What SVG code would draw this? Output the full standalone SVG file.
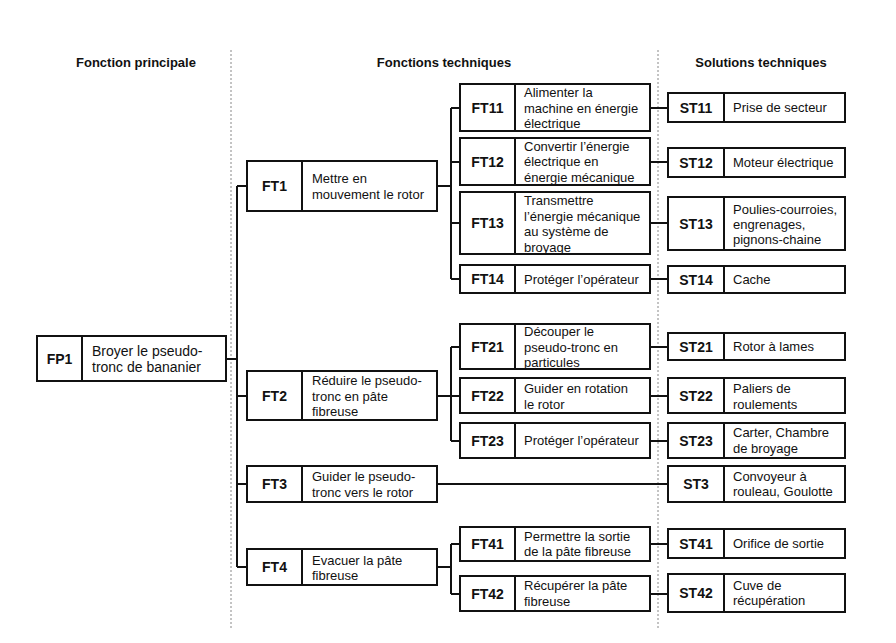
<svg xmlns="http://www.w3.org/2000/svg" width="896" height="643" viewBox="0 0 896 643">
<style>
.box{fill:#fff;stroke:#111;stroke-width:2}
.div{stroke:#111;stroke-width:2}
.conn{fill:none;stroke:#111;stroke-width:2}
.sep{stroke:#888;stroke-width:1;stroke-dasharray:2,2}
text{font-family:"Liberation Sans",Arial,sans-serif;fill:#111}
.hd{font-size:13px;font-weight:bold;text-anchor:middle}
.code{font-size:14px;font-weight:bold;text-anchor:middle}
.t{font-size:13px}
.t14{font-size:14px}
</style>
<rect width="896" height="643" fill="#fff"/>
<g id="separators">
<line class="sep" x1="231" y1="50" x2="231" y2="628"/>
<line class="sep" x1="658" y1="50" x2="658" y2="628"/>
</g>
<g id="headers">
<text class="hd" x="136" y="67">Fonction principale</text>
<text class="hd" x="444" y="67">Fonctions techniques</text>
<text class="hd" x="761" y="67">Solutions techniques</text>
</g>
<g id="connectors">
<path class="conn" d="M226 359H237M237 186V567M237 186H247M237 396H247M237 484H247M237 567H247"/>
<path class="conn" d="M437 186H451M451 108V279M451 108H460M451 162H460M451 223H460M451 279H460"/>
<path class="conn" d="M437 396H451M451 347V441M451 347H460M451 396H460M451 441H460"/>
<path class="conn" d="M437 484H668"/>
<path class="conn" d="M437 567H451M451 544V594M451 544H460M451 594H460"/>
<path class="conn" d="M650 108H668M650 162H668M650 223H668M650 279H668M650 347H668M650 396H668M650 441H668M650 544H668M650 594H668"/>
</g>
<g id="FP1">
<rect class="box" x="37" y="336" width="189" height="45"/>
<line class="div" x1="82" y1="336" x2="82" y2="381"/>
<text class="code" x="59.5" y="363.5">FP1</text>
<text class="t14" x="92" y="356">Broyer le pseudo-</text>
<text class="t14" x="92" y="372">tronc de bananier</text>
</g>
<g id="FT1">
<rect class="box" x="247" y="161" width="190" height="50"/>
<line class="div" x1="302" y1="161" x2="302" y2="211"/>
<text class="code" x="274.5" y="191">FT1</text>
<text class="t" x="312" y="182.5">Mettre en</text>
<text class="t" x="312" y="198.5">mouvement le rotor</text>
</g>
<g id="FT2">
<rect class="box" x="247" y="371" width="190" height="49"/>
<line class="div" x1="302" y1="371" x2="302" y2="420"/>
<text class="code" x="274.5" y="400.5">FT2</text>
<text class="t" x="312" y="384.5">Réduire le pseudo-</text>
<text class="t" x="312" y="400.5">tronc en pâte</text>
<text class="t" x="312" y="415.5">fibreuse</text>
</g>
<g id="FT3">
<rect class="box" x="247" y="466" width="190" height="36"/>
<line class="div" x1="302" y1="466" x2="302" y2="502"/>
<text class="code" x="274.5" y="489">FT3</text>
<text class="t" x="312" y="480.5">Guider le pseudo-</text>
<text class="t" x="312" y="496.5">tronc vers le rotor</text>
</g>
<g id="FT4">
<rect class="box" x="247" y="549" width="190" height="36"/>
<line class="div" x1="302" y1="549" x2="302" y2="585"/>
<text class="code" x="274.5" y="572">FT4</text>
<text class="t" x="312" y="564.5">Evacuer la pâte</text>
<text class="t" x="312" y="579.5">fibreuse</text>
</g>
<g id="FT11">
<rect class="box" x="460" y="84" width="190" height="47"/>
<line class="div" x1="515" y1="84" x2="515" y2="131"/>
<text class="code" x="487.5" y="112.5">FT11</text>
<text class="t" x="524" y="97">Alimenter la</text>
<text class="t" x="524" y="112.5">machine en énergie</text>
<text class="t" x="524" y="128">électrique</text>
</g>
<g id="FT12">
<rect class="box" x="460" y="138" width="190" height="47"/>
<line class="div" x1="515" y1="138" x2="515" y2="185"/>
<text class="code" x="487.5" y="166.5">FT12</text>
<text class="t" x="524" y="150.5">Convertir l’énergie</text>
<text class="t" x="524" y="166">électrique en</text>
<text class="t" x="524" y="181.5">énergie mécanique</text>
</g>
<g id="FT13">
<rect class="box" x="460" y="192" width="190" height="62"/>
<line class="div" x1="515" y1="192" x2="515" y2="254"/>
<text class="code" x="487.5" y="228">FT13</text>
<text class="t" x="524" y="205">Transmettre</text>
<text class="t" x="524" y="220.5">l’énergie mécanique</text>
<text class="t" x="524" y="236">au système de</text>
<text class="t" x="524" y="251.5">broyage</text>
</g>
<g id="FT14">
<rect class="box" x="460" y="265" width="190" height="28"/>
<line class="div" x1="515" y1="265" x2="515" y2="293"/>
<text class="code" x="487.5" y="284">FT14</text>
<text class="t" x="524" y="283.5">Protéger l’opérateur</text>
</g>
<g id="FT21">
<rect class="box" x="460" y="324" width="190" height="45"/>
<line class="div" x1="515" y1="324" x2="515" y2="369"/>
<text class="code" x="487.5" y="351.5">FT21</text>
<text class="t" x="524" y="336">Découper le</text>
<text class="t" x="524" y="351.5">pseudo-tronc en</text>
<text class="t" x="524" y="367">particules</text>
</g>
<g id="FT22">
<rect class="box" x="460" y="378" width="190" height="35"/>
<line class="div" x1="515" y1="378" x2="515" y2="413"/>
<text class="code" x="487.5" y="400.5">FT22</text>
<text class="t" x="524" y="392.5">Guider en rotation</text>
<text class="t" x="524" y="408.5">le rotor</text>
</g>
<g id="FT23">
<rect class="box" x="460" y="423" width="190" height="35"/>
<line class="div" x1="515" y1="423" x2="515" y2="458"/>
<text class="code" x="487.5" y="445.5">FT23</text>
<text class="t" x="524" y="445">Protéger l’opérateur</text>
</g>
<g id="FT41">
<rect class="box" x="460" y="527" width="190" height="34"/>
<line class="div" x1="515" y1="527" x2="515" y2="561"/>
<text class="code" x="487.5" y="549">FT41</text>
<text class="t" x="524" y="541">Permettre la sortie</text>
<text class="t" x="524" y="556">de la pâte fibreuse</text>
</g>
<g id="FT42">
<rect class="box" x="460" y="576" width="190" height="35"/>
<line class="div" x1="515" y1="576" x2="515" y2="611"/>
<text class="code" x="487.5" y="598.5">FT42</text>
<text class="t" x="524" y="589.5">Récupérer la pâte</text>
<text class="t" x="524" y="605.5">fibreuse</text>
</g>
<g id="ST11">
<rect class="box" x="668" y="93" width="177" height="29"/>
<line class="div" x1="724" y1="93" x2="724" y2="122"/>
<text class="code" x="696" y="112.5">ST11</text>
<text class="t" x="733" y="112">Prise de secteur</text>
</g>
<g id="ST12">
<rect class="box" x="668" y="148" width="177" height="29"/>
<line class="div" x1="724" y1="148" x2="724" y2="177"/>
<text class="code" x="696" y="167.5">ST12</text>
<text class="t" x="733" y="167">Moteur électrique</text>
</g>
<g id="ST13">
<rect class="box" x="668" y="197" width="177" height="53"/>
<line class="div" x1="724" y1="197" x2="724" y2="250"/>
<text class="code" x="696" y="228.5">ST13</text>
<text class="t" x="733" y="213.5">Poulies-courroies,</text>
<text class="t" x="733" y="228.5">engrenages,</text>
<text class="t" x="733" y="243.5">pignons-chaine</text>
</g>
<g id="ST14">
<rect class="box" x="668" y="266" width="177" height="27"/>
<line class="div" x1="724" y1="266" x2="724" y2="293"/>
<text class="code" x="696" y="284.5">ST14</text>
<text class="t" x="733" y="284">Cache</text>
</g>
<g id="ST21">
<rect class="box" x="668" y="333" width="177" height="27"/>
<line class="div" x1="724" y1="333" x2="724" y2="360"/>
<text class="code" x="696" y="351.5">ST21</text>
<text class="t" x="733" y="351">Rotor à lames</text>
</g>
<g id="ST22">
<rect class="box" x="668" y="378" width="177" height="35"/>
<line class="div" x1="724" y1="378" x2="724" y2="413"/>
<text class="code" x="696" y="400.5">ST22</text>
<text class="t" x="733" y="392.5">Paliers de</text>
<text class="t" x="733" y="408.5">roulements</text>
</g>
<g id="ST23">
<rect class="box" x="668" y="423" width="177" height="35"/>
<line class="div" x1="724" y1="423" x2="724" y2="458"/>
<text class="code" x="696" y="445.5">ST23</text>
<text class="t" x="733" y="437">Carter, Chambre</text>
<text class="t" x="733" y="452.5">de broyage</text>
</g>
<g id="ST3">
<rect class="box" x="668" y="466" width="177" height="36"/>
<line class="div" x1="724" y1="466" x2="724" y2="502"/>
<text class="code" x="696" y="489">ST3</text>
<text class="t" x="733" y="481">Convoyeur à</text>
<text class="t" x="733" y="496">rouleau, Goulotte</text>
</g>
<g id="ST41">
<rect class="box" x="668" y="529" width="177" height="29"/>
<line class="div" x1="724" y1="529" x2="724" y2="558"/>
<text class="code" x="696" y="548.5">ST41</text>
<text class="t" x="733" y="548">Orifice de sortie</text>
</g>
<g id="ST42">
<rect class="box" x="668" y="574" width="177" height="38"/>
<line class="div" x1="724" y1="574" x2="724" y2="612"/>
<text class="code" x="696" y="598">ST42</text>
<text class="t" x="733" y="589.5">Cuve de</text>
<text class="t" x="733" y="605">récupération</text>
</g>
</svg>
